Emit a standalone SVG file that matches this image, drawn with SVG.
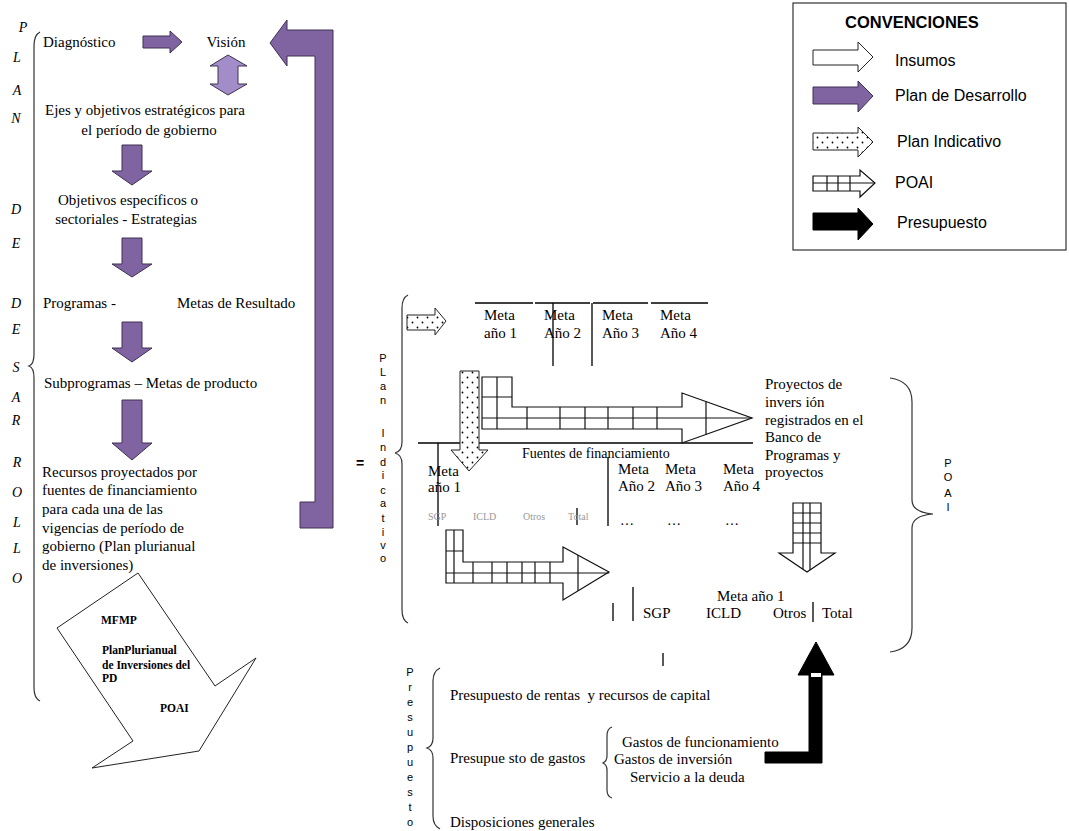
<svg xmlns="http://www.w3.org/2000/svg" width="1069" height="831" viewBox="0 0 1069 831">
<defs>
<style>
.t{font-family:"Liberation Serif","Times New Roman",serif;font-size:15px;fill:#000}
.m{text-anchor:middle}
.f14{font-size:14px}
.it{font-family:"Liberation Serif","Times New Roman",serif;font-style:italic;font-size:14px;text-anchor:middle}
.ss{font-family:"Liberation Sans",Arial,sans-serif;font-size:11px;text-anchor:middle}
.lg{font-family:"Liberation Sans",Arial,sans-serif;font-size:16px}
.pd{fill:#8064a2;stroke:#3f3151;stroke-width:1}
.pl{fill:#a28dc9;stroke:#3f3151;stroke-width:1}
.wh{fill:#fff;stroke:#222;stroke-width:1}
.dt{fill:url(#dots);stroke:#222;stroke-width:1}
.gr{fill:#fff;stroke:#111;stroke-width:1.2}
.gl{fill:none;stroke:#111;stroke-width:1.2}
.bk{fill:#000;stroke:#000}
.ln{stroke:#000;stroke-width:1.3;fill:none}
.br{fill:none;stroke:#333;stroke-width:1.2}
.gy{font-family:"Liberation Serif",serif;font-size:10px;fill:#999}
.bd{font-family:"Liberation Serif",serif;font-size:11.5px;font-weight:bold}
</style>
<pattern id="dots" width="10" height="10" patternUnits="userSpaceOnUse"><rect width="10" height="10" fill="#fff"/><circle cx="2.5" cy="2.5" r="0.9" fill="#000"/><circle cx="7.5" cy="7.5" r="0.9" fill="#000"/></pattern>
</defs>
<rect width="1069" height="831" fill="#fff"/>

<g id="plan-desarrollo-labels">
<text class="it" x="23" y="32">P</text>
<text class="it" x="17" y="62">L</text>
<text class="it" x="17" y="95">A</text>
<text class="it" x="16" y="123">N</text>
<text class="it" x="16" y="214">D</text>
<text class="it" x="16" y="248">E</text>
<text class="it" x="16" y="308">D</text>
<text class="it" x="16" y="334">E</text>
<text class="it" x="16" y="372">S</text>
<text class="it" x="16" y="402">A</text>
<text class="it" x="16" y="425">R</text>
<text class="it" x="17" y="467">R</text>
<text class="it" x="17" y="497">O</text>
<text class="it" x="17" y="527">L</text>
<text class="it" x="17" y="553">L</text>
<text class="it" x="17" y="583">O</text>
<path class="br" d="M40,32 C36,34 34,38 34,46 L34,354 C34,361 32,365 29,366 C32,367 34,371 34,378 L34,688 C34,695 36,699 40,701"/>
</g>

<g id="diagnostico"><text class="t" x="43" y="47">Diagnóstico</text></g>
<g id="vision"><text class="t m" x="226" y="47">Visión</text></g>
<g id="ejes"><text class="t m" x="145" y="115">Ejes y objetivos estratégicos para</text><text class="t m" x="149" y="135">el período de gobierno</text></g>
<g id="objetivos"><text class="t m" x="128" y="205">Objetivos específicos o</text><text class="t m" x="126" y="224">sectoriales - Estrategias</text></g>
<g id="programas"><text class="t" x="43" y="308">Programas -</text><text class="t" x="177" y="308">Metas de Resultado</text></g>
<g id="subprogramas"><text class="t" x="44" y="388">Subprogramas – Metas de producto</text></g>
<g id="recursos">
<text class="t" x="42" y="477">Recursos proyectados por</text>
<text class="t" x="42" y="495">fuentes  de financiamiento</text>
<text class="t" x="42" y="514">para  cada una  de las</text>
<text class="t" x="42" y="533">vigencias de   período de</text>
<text class="t" x="42" y="551">gobierno  (Plan plurianual</text>
<text class="t" x="42" y="570">de inversiones)</text>
</g>
<g id="insumos-grandes">
<polygon class="wh" points="138,573 215,686 256,658 199,751 92,768 133,741 57,628"/>
<text class="bd" x="101" y="624">MFMP</text>
<text class="bd" x="102" y="654">PlanPlurianual</text>
<text class="bd" x="102" y="669">de Inversiones del</text>
<text class="bd" x="102" y="682">PD</text>
<text class="bd" x="160" y="712">POAI</text>
</g>

<g id="connectors">
<polygon class="pd" points="143,36 170,36 170,31 182,42 170,53 170,48 143,48"/>
<polygon class="pl" points="228,55 247,66 238,66 238,84 247,84 228,95 210,84 218,84 218,66 210,66"/>
<polygon class="pd" points="122,145 142,145 142,171 152,171 132,185 112,171 122,171"/>
<polygon class="pd" points="122,238 142,238 142,264 152,264 132,277 112,264 122,264"/>
<polygon class="pd" points="122,322 142,322 142,348 152,348 132,362 112,348 122,348"/>
<polygon class="pd" points="122,400 142,400 142,443 152,443 132,460 112,443 122,443"/>
<polygon class="pd" points="270,43 287,20 287,30 333,30 333,528 300,528 300,502 315,502 315,56 287,56 287,66"/>

<polygon class="dt" points="407,315 435,315 435,308 446,321 435,335 435,330 407,330"/>

<line class="ln" x1="418" y1="443" x2="753" y2="443"/>
<polygon class="gr" points="482,377 512,377 512,407 682,407 682,393 752,418 682,443 682,429 482,429"/>
<path class="gl" d="M497,377V429M482,397H512M482,418H752M527,407V429M560,407V429M585,407V429M608,407V429M633,407V429M657,407V429M706,401.6V434.4"/>
<polygon class="dt" points="460,371 479,371 479,450 488,450 469,471 451,450 460,450"/>

<polygon class="gr" points="446,530 463,530 463,562 563,562 563,547 609,572 563,600 563,583 446,583"/>
<path class="gl" d="M454,530V583M446,551H463M446,573H609M473,562V583M492,562V583M507,562V583M522,562V583M535,562V583M550,562V583M578,555V591"/>

<polygon class="gr" points="793,503 821,503 821,553 835,553 807,572 779,553 793,553"/>
<path class="gl" d="M793,513H821M793,523H821M793,533H821M793,543H821M803,503V569M810,503V570"/>

<polygon class="bk" points="816,642 834,675 822,675 822,763 765,763 765,752 809,752 809,675 798,675"/>
<rect x="811" y="673" width="10" height="4" fill="#fff"/>
</g>

<g id="plan-indicativo">
<text class="ss" x="360" y="468" style="font-size:14px;font-weight:bold">=</text>
<text class="ss" x="383" y="362">P</text>
<text class="ss" x="383" y="376">L</text>
<text class="ss" x="383" y="390">a</text>
<text class="ss" x="383" y="404">n</text>
<text class="ss" x="383" y="437">I</text>
<text class="ss" x="383" y="451">n</text>
<text class="ss" x="383" y="466">d</text>
<text class="ss" x="383" y="479">i</text>
<text class="ss" x="383" y="494">c</text>
<text class="ss" x="383" y="507">a</text>
<text class="ss" x="383" y="522">t</text>
<text class="ss" x="383" y="536">i</text>
<text class="ss" x="383" y="549">v</text>
<text class="ss" x="383" y="562">o</text>
<path class="br" d="M408,295 C404,297 402,301 402,308 L402,442 C402,449 399,452 395,453 C399,454 402,457 402,464 L402,610 C402,617 404,621 408,623"/>
</g>

<g id="metas-anuales">
<path class="ln" d="M475,303H533M535,303H590M593,303H648M651,303H708M553,303V366M592,303V366"/>
<text class="t" x="484" y="320">Meta</text><text class="t" x="484" y="338">año 1</text>
<text class="t" x="544" y="320">Meta</text><text class="t" x="544" y="338">Año 2</text>
<text class="t" x="602" y="320">Meta</text><text class="t" x="602" y="338">Año 3</text>
<text class="t" x="660" y="320">Meta</text><text class="t" x="660" y="338">Año 4</text>
</g>

<g id="fuentes">
<text class="t f14" x="522" y="458">Fuentes de financiamiento</text>
<path class="ln" d="M438,443V526M608,457V526M577,508V525"/>
<text class="t" x="428" y="476">Meta</text><text class="t" x="428" y="492">año 1</text>
<text class="t" x="618" y="474">Meta</text><text class="t" x="618" y="491">Año 2</text>
<text class="t" x="665" y="474">Meta</text><text class="t" x="665" y="491">Año 3</text>
<text class="t" x="723" y="474">Meta</text><text class="t" x="723" y="491">Año 4</text>
<text class="gy" x="428" y="520">SGP</text>
<text class="gy" x="473" y="520">ICLD</text>
<text class="gy" x="523" y="520">Otros</text>
<text class="gy" x="568" y="520">Total</text>
<text class="t f14" x="620" y="525">…</text>
<text class="t f14" x="667" y="525">…</text>
<text class="t f14" x="725" y="525">…</text>
</g>

<g id="proyectos">
<text class="t" x="765" y="389">Proyectos de</text>
<text class="t" x="765" y="407">invers ión</text>
<text class="t" x="765" y="425">registrados en el</text>
<text class="t" x="765" y="442">Banco de</text>
<text class="t" x="765" y="460">Programas y</text>
<text class="t" x="765" y="477">proyectos</text>
</g>

<g id="meta-poai">
<path class="ln" d="M613,603V621M633,587V621M813,602V622M663,653V666"/>
<text class="t" x="717" y="601">Meta año 1</text>
<text class="t" x="643" y="618">SGP</text>
<text class="t" x="706" y="618">ICLD</text>
<text class="t" x="773" y="618">Otros</text>
<text class="t" x="822" y="618">Total</text>
</g>

<g id="poai">
<path class="br" d="M890,378 C905,380 912,388 912,402 L912,500 C912,509 920,513 933,514 C920,515 912,519 912,528 L912,628 C912,642 905,650 890,652"/>
<text class="ss" x="948" y="467">P</text>
<text class="ss" x="948" y="481">O</text>
<text class="ss" x="948" y="497">A</text>
<text class="ss" x="948" y="511">I</text>
</g>

<g id="presupuesto">
<text class="ss" x="410" y="676">P</text>
<text class="ss" x="410" y="691">r</text>
<text class="ss" x="410" y="706">e</text>
<text class="ss" x="410" y="721">s</text>
<text class="ss" x="410" y="736">u</text>
<text class="ss" x="410" y="751">p</text>
<text class="ss" x="410" y="766">u</text>
<text class="ss" x="410" y="781">e</text>
<text class="ss" x="410" y="796">s</text>
<text class="ss" x="410" y="811">t</text>
<text class="ss" x="410" y="826">o</text>
<path class="br" d="M440,668 C436,670 433,674 433,681 L433,738 C433,745 430,747 427,748 C430,749 433,751 433,758 L433,816 C433,823 436,827 440,829"/>
<text class="t" x="450" y="700" xml:space="preserve">Presupuesto de rentas  y recursos de capital</text>
<text class="t" x="450" y="763">Presupue sto de gastos</text>
<text class="t" x="450" y="827">Disposiciones generales</text>
<path class="br" d="M612,727 C609,728 607,731 607,736 L607,756 C607,760 605,762 603,763 C605,764 607,766 607,770 L607,790 C607,795 609,797 612,798"/>
<text class="t" x="622" y="747">Gastos de funcionamiento</text>
<text class="t" x="614" y="764">Gastos de inversión</text>
<text class="t" x="630" y="782">Servicio a la deuda</text>
</g>

<g id="convenciones">
<rect x="793" y="3" width="273" height="247" fill="#fff" stroke="#333" stroke-width="1.2"/>
<text x="845" y="28" style="font-family:'Liberation Sans',Arial,sans-serif;font-size:16.5px;font-weight:bold">CONVENCIONES</text>
<polygon class="wh" points="813,50 858,50 858,42 873,57 858,72 858,65 813,65"/>
<text class="lg" x="895" y="66">Insumos</text>
<polygon class="pd" points="813,87 858,87 858,81 873,96 858,112 858,104 813,104"/>
<text class="lg" x="895" y="101">Plan de Desarrollo</text>
<polygon class="dt" points="813,133 858,133 858,127 873,142 858,157 858,150 813,150"/>
<text class="lg" x="897" y="147">Plan Indicativo</text>
<polygon class="gr" points="813,176 860,176 860,170 875,183 860,197 860,191 813,191"/>
<path class="gl" d="M813,183H875M827,176V191M838,176V191M850,176V191"/>
<text class="lg" x="895" y="188">POAI</text>
<polygon class="bk" points="813,213 858,213 858,208 873,224 858,240 858,230 813,230"/>
<text class="lg" x="897" y="228">Presupuesto</text>
</g>
</svg>
